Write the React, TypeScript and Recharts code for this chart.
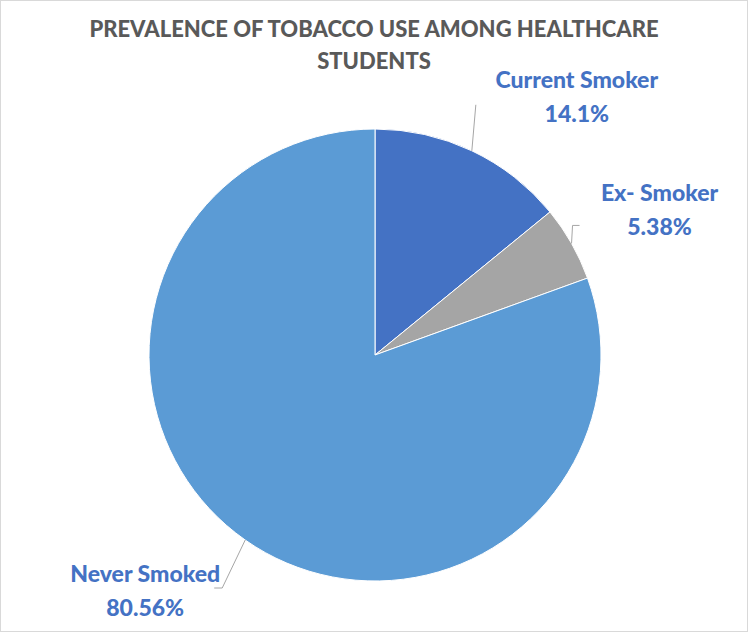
import { PieChart, Pie, Cell } from 'recharts'

const categories = ['Current Smoker', 'Ex- Smoker', 'Never Smoked']
const percentages = [14.1, 5.38, 80.56]
const sliceColors = ['#4472C4', '#A5A5A5', '#5B9BD5']

// where each label sits relative to its anchor point on the rim
const labelLayout = [
  { lx: 4, ly: -46, ex: 0, tx: 105, ty: -72 },
  { lx: 1, ly: -18, ex: 7, tx: 88, ty: -51 },
  { lx: -23, ly: 48, ex: -8, tx: -100, ty: 33 },
]

const data = categories.map((name, i) => ({ name, value: percentages[i] }))

const RAD = Math.PI / 180

const renderLabel = (props: any) => {
  const { cx, cy, midAngle, outerRadius, index } = props
  const x0 = cx + outerRadius * Math.cos(-midAngle * RAD)
  const y0 = cy + outerRadius * Math.sin(-midAngle * RAD)
  const lay = labelLayout[index]
  const x1 = x0 + lay.lx
  const y1 = y0 + lay.ly
  const tx = x0 + lay.tx
  const ty = y0 + lay.ty
  return (
    <g>
      <polyline
        points={`${x0},${y0} ${x1},${y1} ${x1 + lay.ex},${y1}`}
        fill="none"
        stroke="#A6A6A6"
        strokeWidth={1}
      />
      <text
        x={tx}
        y={ty}
        textAnchor="middle"
        dominantBaseline="central"
        fill="#4472C4"
        fontWeight={900}
        fontSize={23}
        fontFamily="Lato, sans-serif"
      >
        {categories[index]}
      </text>
      <text
        x={tx}
        y={ty + 34}
        textAnchor="middle"
        dominantBaseline="central"
        fill="#4472C4"
        fontWeight={900}
        fontSize={23}
        fontFamily="Lato, sans-serif"
      >
        {percentages[index]}%
      </text>
    </g>
  )
}

export default function App() {
  return (
    <div
      style={{
        position: 'relative',
        width: 748,
        height: 632,
        boxSizing: 'border-box',
        border: '1px solid #D9D9D9',
        background: '#fff',
      }}
    >
      <style>{`body { margin: 0; }`}</style>
      <div
        style={{
          position: 'absolute',
          top: 12,
          left: 0,
          width: '100%',
          textAlign: 'center',
          fontFamily: 'Lato, sans-serif',
          fontWeight: 900,
          fontSize: 22,
          lineHeight: '32px',
          color: '#595959',
        }}
      >
        PREVALENCE OF TOBACCO USE AMONG HEALTHCARE
        <br />
        STUDENTS
      </div>
      <div style={{ position: 'absolute', top: -1, left: -1 }}>
        <PieChart width={748} height={632} margin={{ top: 0, right: 0, bottom: 0, left: 0 }}>
          <Pie
            data={data}
            dataKey="value"
            nameKey="name"
            cx={375}
            cy={355}
            outerRadius={226}
            startAngle={90}
            endAngle={-270}
            stroke="#fff"
            strokeWidth={1}
            label={renderLabel}
            labelLine={false}
            isAnimationActive={false}
          >
            {data.map((d, i) => (
              <Cell key={d.name} fill={sliceColors[i]} />
            ))}
          </Pie>
        </PieChart>
      </div>
    </div>
  )
}
